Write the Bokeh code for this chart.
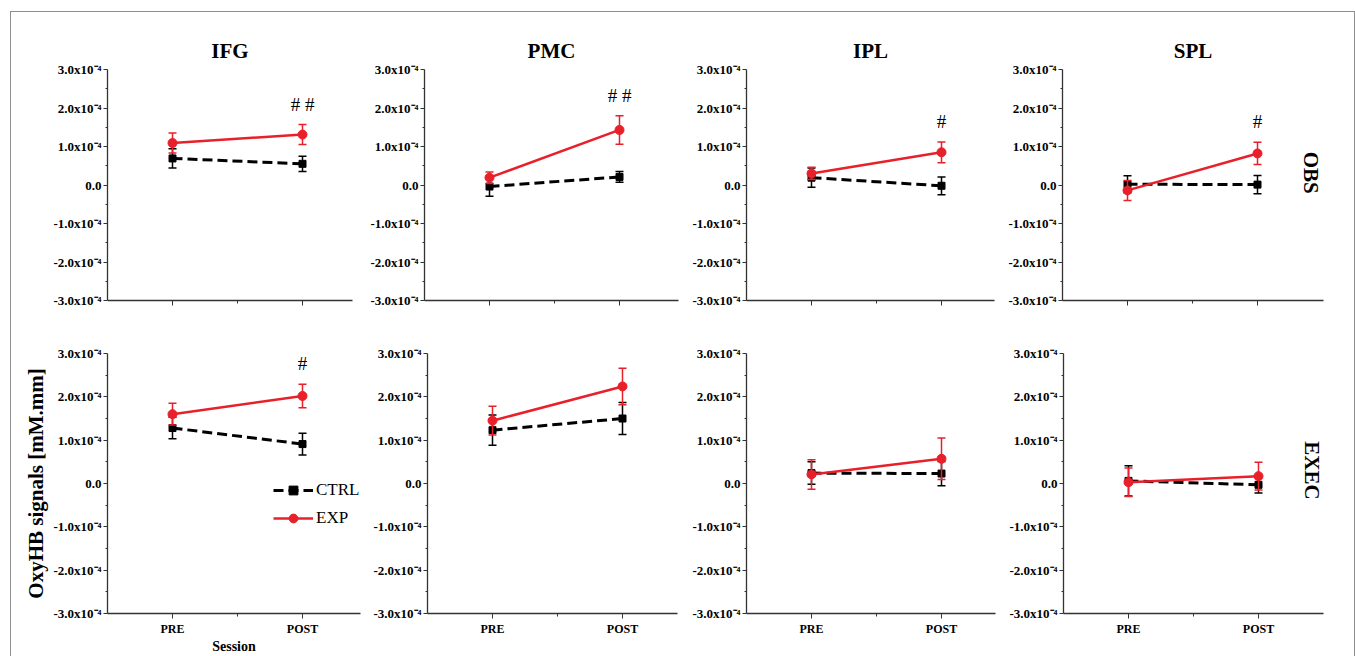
import math
from bokeh.plotting import figure
from bokeh.layouts import row, column
from bokeh.models import (FixedTicker, CustomJSTickFormatter, Legend, LegendItem,
                          Spacer, Range1d, Title)
from bokeh.core.properties import value
from bokeh.embed import file_html
from bokeh.resources import INLINE

# ---------------- data (values in mM.mm) ----------------
regions = ["IFG", "PMC", "IPL", "SPL"]
sessions = ["PRE", "POST"]
conditions = ["OBS", "EXEC"]
session_x = [1, 2]

obs_ctrl_mean = [[0.69e-4, 0.55e-4], [-0.04e-4, 0.21e-4], [0.19e-4, -0.02e-4], [0.02e-4, 0.01e-4]]
obs_ctrl_err = [[0.25e-4, 0.20e-4], [0.25e-4, 0.14e-4], [0.25e-4, 0.23e-4], [0.22e-4, 0.24e-4]]
obs_exp_mean = [[1.09e-4, 1.31e-4], [0.19e-4, 1.43e-4], [0.30e-4, 0.85e-4], [-0.14e-4, 0.82e-4]]
obs_exp_err = [[0.26e-4, 0.26e-4], [0.15e-4, 0.37e-4], [0.16e-4, 0.27e-4], [0.26e-4, 0.29e-4]]

exec_ctrl_mean = [[1.28e-4, 0.91e-4], [1.23e-4, 1.50e-4], [0.24e-4, 0.23e-4], [0.06e-4, -0.03e-4]]
exec_ctrl_err = [[0.25e-4, 0.25e-4], [0.35e-4, 0.37e-4], [0.26e-4, 0.28e-4], [0.35e-4, 0.19e-4]]
exec_exp_mean = [[1.60e-4, 2.02e-4], [1.45e-4, 2.24e-4], [0.21e-4, 0.57e-4], [0.03e-4, 0.17e-4]]
exec_exp_err = [[0.25e-4, 0.27e-4], [0.33e-4, 0.42e-4], [0.34e-4, 0.48e-4], [0.33e-4, 0.32e-4]]

obs_sig = ["# #", "# #", "#", "#"]
exec_sig = ["#", "", "", ""]

y_ticks = [-3e-4, -2e-4, -1e-4, 0.0, 1e-4, 2e-4, 3e-4]
y_minor = [-2.5e-4, -1.5e-4, -0.5e-4, 0.5e-4, 1.5e-4, 2.5e-4]
x_minor = [1.5]

# ---------------- layout / style ----------------
SERIF = "Liberation Serif"
RED = "#e8202a"
BLACK = "#000000"
AXIS = "#333333"
FRAME = "#8f8f8f"

col_w = [[351, 326, 312, 354], [353, 324, 312, 354]]
col_l = [[96, 62, 58, 62], [96, 63, 58, 63]]
col_r = [[10, 10, 6, 31], [4, 11, 5, 31]]
row_h = [318, 326]
row_t = [57, 23]
row_b = [30, 38]
PX_PER_SESSION = 130.0

means = {("OBS", "CTRL"): obs_ctrl_mean, ("OBS", "EXP"): obs_exp_mean,
         ("EXEC", "CTRL"): exec_ctrl_mean, ("EXEC", "EXP"): exec_exp_mean}
errs = {("OBS", "CTRL"): obs_ctrl_err, ("OBS", "EXP"): obs_exp_err,
        ("EXEC", "CTRL"): exec_ctrl_err, ("EXEC", "EXP"): exec_exp_err}
sigs = {"OBS": obs_sig, "EXEC": exec_sig}

y_fmt_code = """
if (Math.abs(tick) < 1e-12) { return "0.0"; }
return (tick * 1e4).toFixed(1) + "x10\u207b\u2074";
"""
x_fmt_code = """
const r = Math.round(tick);
if (Math.abs(tick - r) > 1e-9) { return ""; }
const i = r - 1;
return (show && i >= 0 && i < labs.length) ? labs[i] : "";
"""


def make_panel(ci, ri):
    cond = conditions[ri]
    w, l, r = col_w[ri][ci], col_l[ri][ci], col_r[ri][ci]
    fw = w - l - r
    p = figure(width=w, height=row_h[ri],
               x_range=Range1d(0.5, 0.5 + fw / PX_PER_SESSION),
               y_range=Range1d(-3e-4, 3e-4),
               output_backend="svg", toolbar_location=None,
               min_border_left=l, min_border_right=r,
               min_border_top=row_t[ri], min_border_bottom=row_b[ri])
    p.outline_line_color = None
    p.grid.visible = False
    p.background_fill_color = "white"
    p.border_fill_color = "white"

    # y axis
    ya = p.yaxis[0]
    ya.ticker = FixedTicker(ticks=y_ticks, minor_ticks=y_minor)
    ya.formatter = CustomJSTickFormatter(code=y_fmt_code)
    ya.major_label_text_font = SERIF
    ya.major_label_text_font_style = "bold"
    ya.major_label_text_font_size = "13px"
    ya.major_label_text_color = BLACK
    ya.major_label_standoff = 2
    ya.major_tick_out = 4
    ya.major_tick_in = 0
    ya.minor_tick_out = 2
    ya.minor_tick_in = 0
    ya.axis_line_color = AXIS
    ya.major_tick_line_color = AXIS
    ya.minor_tick_line_color = AXIS
    ya.axis_line_width = 1.3

    # x axis
    xa = p.xaxis[0]
    xa.ticker = FixedTicker(ticks=session_x, minor_ticks=x_minor)
    xa.formatter = CustomJSTickFormatter(args=dict(labs=sessions, show=(ri == 1)), code=x_fmt_code)
    xa.major_label_text_font = SERIF
    xa.major_label_text_font_style = "bold"
    xa.major_label_text_font_size = "12px"
    xa.major_label_text_color = BLACK
    xa.major_label_standoff = 3
    xa.major_tick_out = 5
    xa.major_tick_in = 0
    xa.minor_tick_out = 3
    xa.minor_tick_in = 0
    xa.axis_line_color = AXIS
    xa.major_tick_line_color = AXIS
    xa.minor_tick_line_color = AXIS
    xa.axis_line_width = 1.3

    if ri == 0:
        p.title = Title(text=regions[ci], align="center", text_font=SERIF,
                        text_font_style="bold", text_font_size="21px",
                        text_color=BLACK, standoff=13)

    renderers = {}
    for grp, color, marker, msize, dash, lw in [("CTRL", BLACK, "square", 7, "10 5", 3),
                                                 ("EXP", RED, "circle", 9, "solid", 2.5)]:
        m = means[(cond, grp)][ci]
        e = errs[(cond, grp)][ci]
        up = [a + b for a, b in zip(m, e)]
        lo = [a - b for a, b in zip(m, e)]
        p.segment(x0=session_x, y0=lo, x1=session_x, y1=up, line_color=color, line_width=1.5)
        p.scatter(x=session_x + session_x, y=up + lo, marker="dash", size=8,
                  line_color=color, line_width=1.5)
        ln = p.line(x=session_x, y=m, line_color=color, line_width=lw, line_dash=dash)
        sc = p.scatter(x=session_x, y=m, marker=marker, size=msize,
                       fill_color=color, line_color=color)
        renderers[grp] = (ln, sc, up)

    # significance markers above EXP POST error bar
    s = sigs[cond][ci]
    if s:
        p.text(x=[session_x[1]], y=[renderers["EXP"][2][1]], text=[s],
               text_font=value(SERIF), text_font_size="19px", text_color=BLACK,
               text_align="center", text_baseline="bottom", y_offset=-10)

    # condition label on the right-most panels
    if ci == len(regions) - 1:
        ylab = 0.32e-4 if cond == "OBS" else 0.30e-4
        p.text(x=[0.5 + 248 / PX_PER_SESSION], y=[ylab], text=[cond],
               angle=-math.pi / 2, text_font=value(SERIF), text_font_style="bold",
               text_font_size="21px", text_color=BLACK,
               text_align="center", text_baseline="middle")

    if ci == 0 and ri == 1:
        ya.axis_label = "OxyHB signals [mM.mm]"
        ya.axis_label_text_font = SERIF
        ya.axis_label_text_font_style = "bold"
        ya.axis_label_text_font_size = "21px"
        ya.axis_label_text_color = BLACK
        ya.axis_label_standoff = 3
        xa.axis_label = "Session"
        xa.axis_label_text_font = SERIF
        xa.axis_label_text_font_style = "bold"
        xa.axis_label_text_font_size = "14px"
        xa.axis_label_text_color = BLACK
        xa.axis_label_standoff = 0
        legend = Legend(items=[LegendItem(label="CTRL", renderers=list(renderers["CTRL"][:2])),
                               LegendItem(label="EXP", renderers=list(renderers["EXP"][:2]))],
                        location=(166, 84), padding=0, margin=0, spacing=6,
                        glyph_width=40, glyph_height=22, label_height=22,
                        label_standoff=3, border_line_color=None,
                        background_fill_alpha=0,
                        label_text_font=SERIF, label_text_font_size="17px",
                        label_text_color=BLACK)
        p.add_layout(legend)
    return p


rows = []
for ri in range(2):
    rows.append(row(*[make_panel(ci, ri) for ci in range(4)], spacing=0))
grid = column(*rows, spacing=0)

gray = {"background-color": FRAME}
layout = column(
    Spacer(width=1355, height=11),
    row(Spacer(width=10, height=1), Spacer(width=1345, height=1, styles=gray), spacing=0),
    row(Spacer(width=10, height=644),
        Spacer(width=1, height=644, styles=gray),
        grid,
        Spacer(width=1, height=644, styles=gray), spacing=0),
    spacing=0)

open("out.html", "w", encoding="utf-8").write(file_html(layout, INLINE))
